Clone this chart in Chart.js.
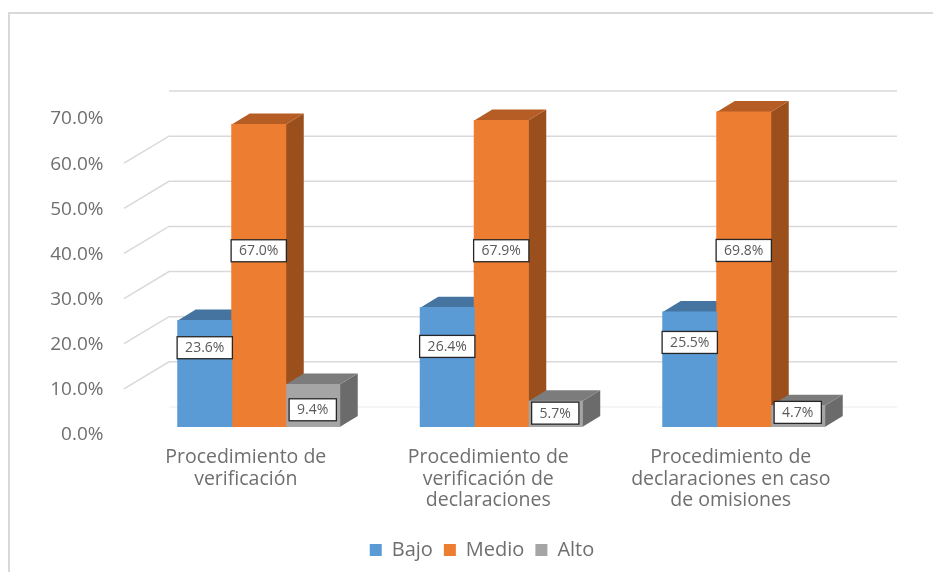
<!DOCTYPE html>
<html>
<head>
<meta charset="utf-8">
<title>Procedimientos</title>
<script src="https://cdn.jsdelivr.net/npm/chart.js@4/dist/chart.umd.min.js"></script>
<style>
    html, body { margin: 0; padding: 0; background: #fff; overflow: hidden; }
    #marco { position: absolute; left: 8px; top: 12px; right: 0; bottom: 0; border-left: 2px solid #d9d9d9; border-top: 2px solid #d9d9d9; }
    canvas { position: absolute; left: 0; top: 0; }
</style>
</head>
<body>
<div id="marco"></div>
<canvas id="grafico" width="933" height="572"></canvas>
<script>
const categorias = [
    ['Procedimiento de', 'verificación'],
    ['Procedimiento de', 'verificación de', 'declaraciones'],
    ['Procedimiento de', 'declaraciones en caso', 'de omisiones']
];
const bajo = [23.6, 26.4, 25.5];
const medio = [67.0, 67.9, 69.8];
const alto = [9.4, 5.7, 4.7];

const FUENTE = '"Open Sans", sans-serif';
const TEXTO = '#6f6f6f';

// Profundidad de las barras y de las paredes del gráfico 3D
const BARRA_DX = 18, BARRA_DY = 11;
const PARED_X0 = 124, PARED_X1 = 169, PARED_X2 = 897;
const PARED_FRENTE = 7, PARED_FONDO = -20;

// Ajuste vertical de cada etiqueta respecto al centro de su barra
const AJUSTE_ETIQUETAS = [[-26, -21, -27], [-25, -23, -19], [4, -1, -4]];
// Desplazamiento de la leyenda: en el original no queda centrada
const AJUSTE_LEYENDA = 33.5;

const cara = (ctx, color, puntos) => {
    ctx.fillStyle = color;
    ctx.beginPath();
    puntos.forEach((p, i) => i ? ctx.lineTo(p[0], p[1]) : ctx.moveTo(p[0], p[1]));
    ctx.closePath();
    ctx.fill();
};

// Líneas de cuadrícula en las paredes y caras laterales de las barras
const paredes = {
    id: 'paredes',
    afterLayout(chart) {
        chart.legend.left += AJUSTE_LEYENDA;
        chart.legend.right += AJUSTE_LEYENDA;
    },
    beforeDatasetsDraw(chart) {
        const { ctx, scales: { y } } = chart;
        ctx.save();
        ctx.lineWidth = 1.5;
        y.ticks.forEach(t => {
            const py = y.getPixelForValue(t.value);
            ctx.strokeStyle = t.value === 0 ? '#f2f2f2' : '#d9d9d9';
            ctx.beginPath();
            if (t.value > 0 && t.value < 70) {
                ctx.moveTo(PARED_X0, py + PARED_FRENTE);
                ctx.lineTo(PARED_X1, py + PARED_FONDO);
            } else {
                ctx.moveTo(PARED_X1, py + PARED_FONDO);
            }
            ctx.lineTo(PARED_X2, py + PARED_FONDO);
            ctx.stroke();
        });
        // de izquierda a derecha, para que cada barra tape a la anterior
        chart.data.datasets.forEach((ds, i) => {
            chart.getDatasetMeta(i).data.forEach(b => {
                const izq = b.x - b.width / 2, der = b.x + b.width / 2;
                cara(ctx, ds.colorLado, [[der, b.y], [der + BARRA_DX, b.y - BARRA_DY], [der + BARRA_DX, b.base - BARRA_DY], [der, b.base]]);
                cara(ctx, ds.colorTapa, [[izq, b.y], [izq + BARRA_DX, b.y - BARRA_DY], [der + BARRA_DX, b.y - BARRA_DY], [der, b.y]]);
            });
        });
        ctx.restore();
    }
};

// Etiquetas con recuadro
const etiquetas = {
    id: 'etiquetas',
    afterDatasetsDraw(chart) {
        const { ctx } = chart;
        ctx.save();
        ctx.font = '14px ' + FUENTE;
        ctx.textAlign = 'center';
        ctx.textBaseline = 'middle';
        chart.data.datasets.forEach((ds, i) => {
            chart.getDatasetMeta(i).data.forEach((b, j) => {
                const txt = ds.data[j].toFixed(1) + '%';
                const w = ctx.measureText(txt).width + 16, h = 22;
                const cy = (b.y + b.base) / 2 + AJUSTE_ETIQUETAS[i][j];
                ctx.fillStyle = '#fff';
                ctx.fillRect(b.x - w / 2, cy - h / 2, w, h);
                ctx.strokeStyle = '#262626';
                ctx.lineWidth = 1.3;
                ctx.strokeRect(b.x - w / 2, cy - h / 2, w, h);
                ctx.fillStyle = '#595959';
                ctx.fillText(txt, b.x, cy + 0.5);
            });
        });
        ctx.restore();
    }
};

new Chart(document.getElementById('grafico'), {
    type: 'bar',
    data: {
        labels: categorias,
        datasets: [
            { label: 'Bajo', data: bajo, backgroundColor: '#5b9bd5', colorLado: '#3f6f9b', colorTapa: '#44749f' },
            { label: 'Medio', data: medio, backgroundColor: '#ed7d31', colorLado: '#9a4f1c', colorTapa: '#b55d24' },
            { label: 'Alto', data: alto, backgroundColor: '#a5a5a5', colorLado: '#6b6b6b', colorTapa: '#7c7c7c' }
        ]
    },
    options: {
        responsive: false,
        animation: false,
        layout: { padding: { left: 32, right: 68, top: 111, bottom: 2 } },
        datasets: { bar: { categoryPercentage: 0.668, barPercentage: 1, inflateAmount: 0.5 } },
        plugins: {
            title: { display: false },
            tooltip: { enabled: false },
            legend: {
                position: 'bottom',
                labels: {
                    color: TEXTO,
                    font: { family: FUENTE, size: 20 },
                    boxWidth: 12,
                    boxHeight: 12,
                    padding: 11
                }
            }
        },
        scales: {
            x: {
                grid: { display: false, drawTicks: false },
                border: { display: false },
                afterFit: s => { s.height = 102; },
                ticks: {
                    color: TEXTO,
                    font: { family: FUENTE, size: 19.5, lineHeight: 1.1 },
                    padding: 20,
                    labelOffset: -13,
                    maxRotation: 0,
                    autoSkip: false
                }
            },
            y: {
                min: 0,
                max: 70,
                grid: { display: false, drawTicks: false },
                border: { display: false },
                afterFit: s => { s.width = 105.5; },
                ticks: {
                    color: TEXTO,
                    font: { family: FUENTE, size: 19 },
                    stepSize: 10,
                    padding: 34,
                    labelOffset: 8,
                    callback: v => v.toFixed(1) + '%'
                }
            }
        }
    },
    plugins: [paredes, etiquetas]
});
</script>
</body>
</html>
